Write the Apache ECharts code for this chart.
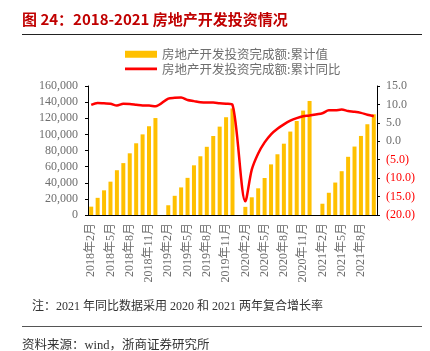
<!DOCTYPE html>
<html>
<head>
<meta charset="utf-8">
<script src="https://cdn.jsdelivr.net/npm/echarts@6/dist/echarts.min.js"></script>
<style>
  html, body { margin: 0; padding: 0; background: #fff; }
  #chart { width: 430px; height: 351px; }
</style>
</head>
<body>
<div id="chart"></div>
<script>
(function() {
  var years = ['2018', '2019', '2020', '2021'];
  // monthly categories, Jan folded into Feb, so January has no value
  var categories = [];
  years.forEach(function(y, yi) {
    var first = yi === 0 ? 2 : 1;
    var last = y === '2021' ? 10 : 12;
    for (var m = first; m <= last; m++) categories.push(y + '年' + m + '月');
  });

  // 房地产开发投资完成额:累计值 (亿元)
  var invest2018 = [10357, 21291, 30592, 41349, 55531, 64368, 76519, 88948, 99996, 110083, 120264];
  var invest2019 = [null, 12090, 23803, 34217, 46075, 61609, 72843, 84589, 98008, 109603, 121265, 132194];
  var invest2020 = [null, 10115, 21963, 33103, 45920, 62780, 75325, 88454, 103484, 116556, 129492, 141443];
  var invest2021 = [null, 13986, 27576, 40240, 54318, 72179, 84895, 98060, 112568, 124934];

  // 房地产开发投资完成额:累计同比 (%)
  var yoy2018 = [9.9, 10.4, 10.3, 10.2, 9.7, 10.2, 10.1, 9.9, 9.7, 9.7, 9.5];
  var yoy2019 = [null, 11.6, 11.8, 11.9, 11.2, 10.9, 10.6, 10.5, 10.5, 10.3, 10.2, 9.9];
  var yoy2020 = [null, -16.3, -7.7, -3.3, -0.3, 1.9, 3.4, 4.6, 5.6, 6.3, 6.8, 7.0];
  var yoy2021 = [null, 7.6, 8.4, 8.4, 8.6, 8.2, 8.0, 7.7, 7.2, 6.8];

  var invest = invest2018.concat(invest2019, invest2020, invest2021);
  var yoy = yoy2018.concat(yoy2019, yoy2020, yoy2021);

  var gray = '#6e6e6e';
  var serif = "'Liberation Serif', 'Noto Sans CJK SC', serif";
  var cjk = "'Noto Sans CJK SC', sans-serif";

  var chart = echarts.init(document.getElementById('chart'));
  chart.setOption({
    animation: false,
    backgroundColor: '#fff',
    graphic: [
      { type: 'text', left: 22, top: 12, style: { text: '图 24：2018-2021 房地产开发投资情况', fill: '#C00000', font: "bold 15px 'Noto Sans CJK SC', sans-serif" } },
      { type: 'line', shape: { x1: 22, y1: 34.5, x2: 422, y2: 34.5 }, style: { stroke: '#222', lineWidth: 1 } },
      { type: 'text', left: 32, top: 301, style: { text: '注：2021 年同比数据采用 2020 和 2021 两年复合增长率', fill: '#333', font: "12px 'Liberation Serif', 'Noto Sans CJK SC', serif" } },
      { type: 'line', shape: { x1: 22, y1: 326.5, x2: 422, y2: 326.5 }, style: { stroke: '#555', lineWidth: 1 } },
      { type: 'text', left: 22, top: 339, style: { text: '资料来源：wind，浙商证券研究所', fill: '#333', font: "12.5px 'Liberation Serif', 'Noto Sans CJK SC', serif" } }
    ],
    legend: {
      orient: 'vertical',
      left: 120,
      top: 43,
      itemWidth: 32,
      itemHeight: 7,
      itemGap: 2,
      textStyle: { color: gray, fontSize: 12.5, fontFamily: cjk },
      data: [
        { name: '房地产开发投资完成额:累计值', icon: 'rect' },
        { name: '房地产开发投资完成额:累计同比', icon: 'path://M0,0h0.01v0.01h-0.01zM0,2.3h32v2.6h-32zM0,6.99h0.01v0.01h-0.01z' }
      ]
    },
    grid: { left: 88, right: 53, top: 86, bottom: 136 },
    xAxis: {
      type: 'category',
      data: categories,
      axisLine: { lineStyle: { color: '#000', width: 1 } },
      axisTick: { length: 4, interval: 2, lineStyle: { color: '#000' } },
      axisLabel: { interval: 2, rotate: 90, margin: 8, color: gray, fontSize: 12, fontFamily: serif }
    },
    yAxis: [
      {
        type: 'value',
        min: 0, max: 160000, interval: 20000,
        splitLine: { show: false },
        axisLine: { show: true, lineStyle: { color: '#000' } },
        axisTick: { show: true, length: 3, lineStyle: { color: '#000' } },
        axisLabel: {
          margin: 10, color: gray, fontSize: 12, fontFamily: serif,
          formatter: function(v) { return v.toLocaleString('en-US'); }
        }
      },
      {
        type: 'value',
        min: -20, max: 15, interval: 5,
        splitLine: { show: false },
        axisLine: { show: true, lineStyle: { color: '#000' } },
        axisTick: { show: true, length: 3, lineStyle: { color: '#000' } },
        axisLabel: {
          margin: 9, fontSize: 12, fontFamily: serif,
          color: function(v) { return Number(v) < 0 ? '#FF0000' : gray; },
          formatter: function(v) { return v < 0 ? '(' + Math.abs(v).toFixed(1) + ')' : v.toFixed(1); }
        }
      }
    ],
    series: [
      {
        name: '房地产开发投资完成额:累计值',
        type: 'bar',
        data: invest,
        barWidth: 4,
        itemStyle: { color: '#FFC000' }
      },
      {
        name: '房地产开发投资完成额:累计同比',
        type: 'line',
        yAxisIndex: 1,
        data: yoy,
        connectNulls: true,
        smooth: 0.3,
        symbol: 'none',
        lineStyle: { color: '#FF0000', width: 2.5 },
        itemStyle: { color: '#FF0000' }
      }
    ]
  });
  window.addEventListener('resize', function() { chart.resize(); });
})();
</script>
</body>
</html>
